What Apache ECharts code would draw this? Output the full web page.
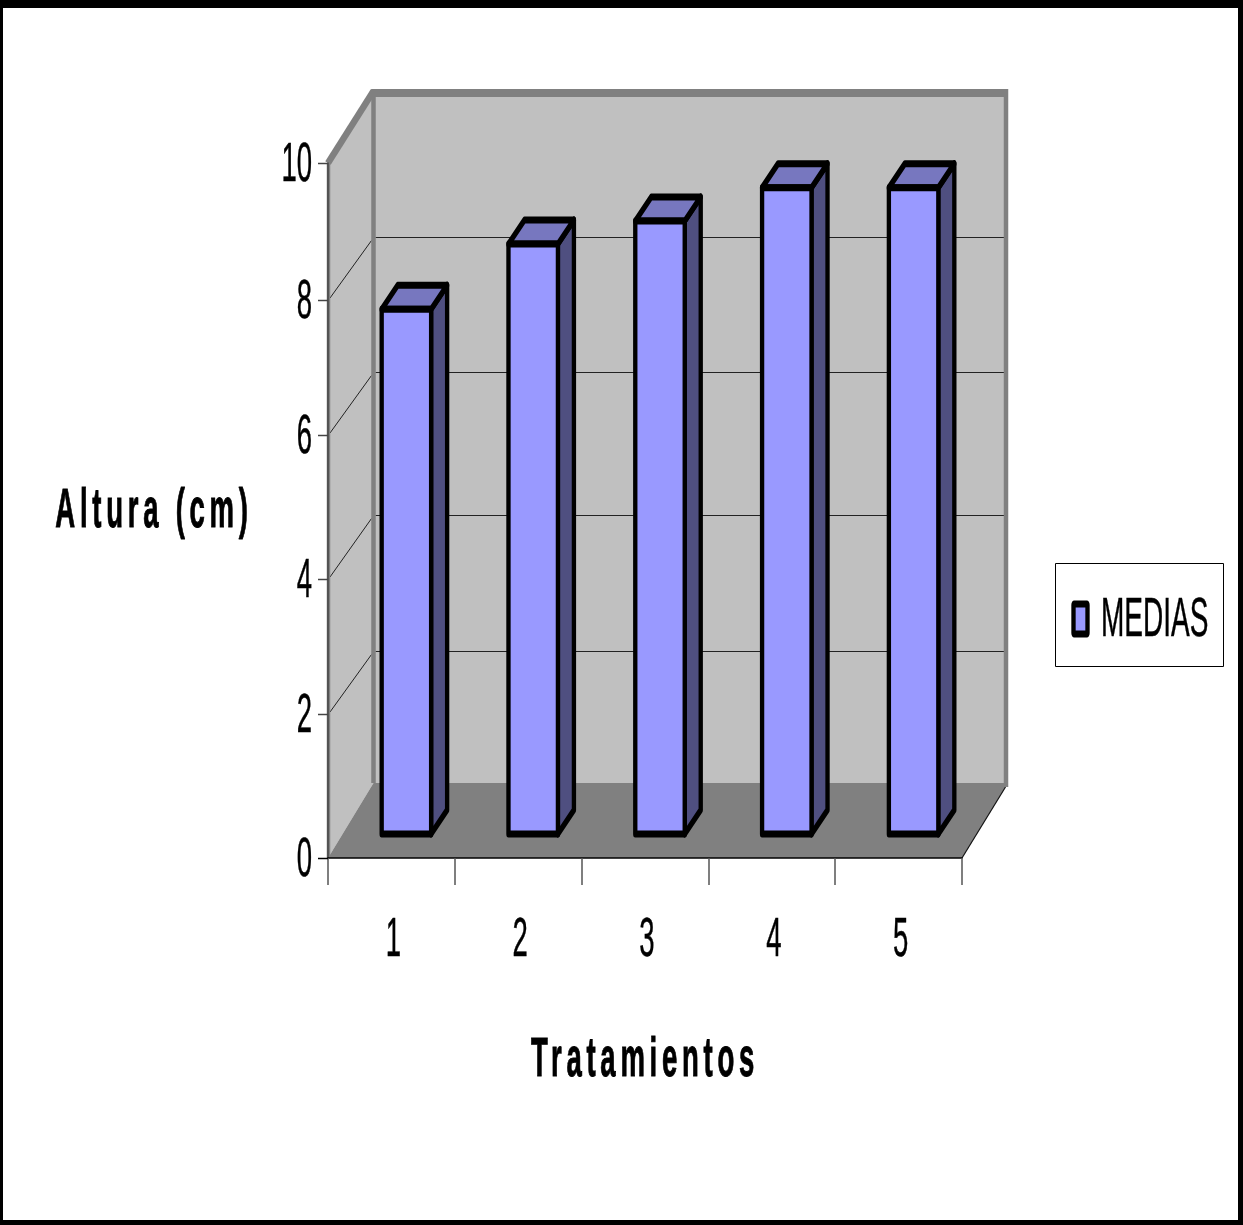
<!DOCTYPE html>
<html>
<head>
<meta charset="utf-8">
<style>html,body{margin:0;padding:0;background:#fff}#chart{width:1243px;height:1225px}</style>
<script src="https://cdn.jsdelivr.net/npm/echarts@6/dist/echarts.min.js"></script>
</head>
<body>
<div id="chart"></div>
<script>
// Plant height by treatment
const categories = ['1', '2', '3', '4', '5'];
const medias = [7.55, 8.49, 8.82, 9.3, 9.3];
const yTicks = [0, 2, 4, 6, 8, 10];
const seriesName = 'MEDIAS';
const xTitle = 'Tratamientos';
const yTitle = 'Altura (cm)';

// Oblique projection of the box
const wallDx = 45.5;
const wallLift = [75, 68, 65, 69, 65, 70];   // rise of the back wall at each y tick
const tickNudge = [0, -5, -1, -6, -2, 0];    // small shift of each y tick on the front edge
const barDx = 15;                            // bar offset from the front plane
const barLift = 24;
const barSideDx = 16;
const barSideLift = 24;
const barShare = 0.39;
const squeeze = 0.62;                        // vertical strokes are thinner than horizontal ones
const titleTracking = '9.5px';

const FONT = '"Liberation Sans", Arial, sans-serif';
const WALL = '#c0c0c0', FLOOR = '#808080', EDGE = '#808080';

// zrender's text style has no letter spacing, so the two axis titles get it at draw time
['fillText', 'strokeText'].forEach(method => {
  const plain = CanvasRenderingContext2D.prototype[method];
  CanvasRenderingContext2D.prototype[method] = function (text, x, y) {
    const tracked = text === xTitle || text === yTitle;
    this.save();
    this.letterSpacing = tracked ? titleTracking : '0px';
    plain.call(this, text, x, y);
    this.restore();
  };
});

function poly(points, style, z2) {
  return {
    type: 'polygon', scaleX: squeeze, z2: z2 || 0,
    shape: { points: points.map(p => [p[0] / squeeze, p[1]]) },
    style: Object.assign({ lineJoin: 'round' }, style)
  };
}
function seg(a, b, stroke, lineWidth) {
  return {
    type: 'line',
    shape: { x1: a[0], y1: a[1], x2: b[0], y2: b[1] },
    style: { stroke, lineWidth, fill: null, lineCap: 'butt' }
  };
}

// Back wall, side wall, floor and the grid lines that run across them
function renderBox(params, api) {
  const band = api.size([1, 0])[0];
  const left = api.coord([0, 0])[0] - band / 2;
  const right = left + band * categories.length;
  const yAt = v => api.coord([0, v])[1];
  const n = yTicks.length - 1;
  const yF0 = yAt(yTicks[0]), yF1 = yAt(yTicks[n]);
  const yB0 = yF0 - wallLift[0], yB1 = yF1 - wallLift[n];
  const bl = left + wallDx, br = right + wallDx;
  const kids = [
    poly([[bl, yB1], [br, yB1], [br, yB0], [bl, yB0]], { fill: WALL }),
    poly([[left, yF1], [bl, yB1], [bl, yB0], [left, yF0]], { fill: WALL }),
    poly([[left, yF0], [right, yF0], [br - 2, yB0 + 4], [br, yB0], [bl, yB0]], { fill: FLOOR })
  ];
  for (let i = 1; i < n; i++) {
    const raw = yAt(yTicks[i]);
    const yF = raw + tickNudge[i], yB = Math.round(raw - wallLift[i]) + 0.5;
    kids.push(seg([left + 2, yF - 2], [bl - 2, yB + 3], '#222', 1));
    kids.push(seg([bl + 2, yB], [br - 3, yB], '#222', 1));
  }
  kids.push(seg([right, yF0], [br - 2, yB0 + 4], '#111', 1.2));
  kids.push(seg([bl, yB1 - 4], [bl, yB0], EDGE, 4.5));
  kids.push(seg([br - 1.5, yB1 - 4], [br - 1.5, yB0 + 4], EDGE, 4.5));
  kids.push(seg([bl - 2, yB1], [br + 0.5, yB1], EDGE, 8));
  kids.push(seg([left, yF1], [bl, yB1 - 2], EDGE, 6.5));
  kids.push(seg([left + 0.5, yF1], [left + 0.5, yF0], EDGE, 3.5));
  return { type: 'group', children: kids };
}

// One prism per treatment
function renderBar(params, api) {
  const base = api.coord([api.value(0), 0]);
  const top = api.coord([api.value(0), api.value(1)]);
  const band = api.size([1, 0])[0];
  const w = band * barShare;
  const x0 = base[0] + barDx - w / 2, x1 = x0 + w;
  const yB = base[1] - barLift, yT = top[1] - barLift;
  const d = barSideDx, h = barSideLift;
  const line = { stroke: '#000', lineWidth: 7 };
  return {
    type: 'group',
    children: [
      poly([[x1, yT], [x1 + d, yT - h], [x1 + d, yB - h], [x1, yB]], Object.assign({ fill: '#4f4f80' }, line)),
      poly([[x0, yT], [x0 + d, yT - h], [x1 + d, yT - h], [x1, yT]], Object.assign({ fill: '#7777bf' }, line)),
      poly([[x0, yT], [x1, yT], [x1, yB], [x0, yB]], Object.assign({ fill: '#9999ff' }, line))
    ]
  };
}

function tallText(text, x, y, align, size, sx, weight, heft) {
  return {
    type: 'text', x, y, scaleX: sx,
    style: {
      text, x: 0, y: 0, align, verticalAlign: 'middle',
      fontFamily: FONT, fontSize: size, fontWeight: weight || 'normal', fill: '#000',
      stroke: '#000', lineWidth: heft || 0.5
    }
  };
}

function renderXLabel(params, api) {
  const p = api.coord([api.value(0), 0]);
  return tallText(categories[api.value(0)], p[0] + 2, p[1] + 83, 'center', 55, 0.5);
}
function renderYLabel(params, api) {
  const i = params.dataIndex;
  const p = api.coord([0, api.value(0)]);
  const band = api.size([1, 0])[0];
  const x = p[0] - band / 2;
  const y = Math.round(p[1] + tickNudge[i]) + 0.5;
  return {
    type: 'group',
    children: [
      seg([x - 10, y], [x, y], i === 0 ? '#000' : '#444', 1.5),
      tallText(String(api.value(0)), x - 16, y + 2, 'right', 55, 0.5)
    ]
  };
}

const option = {
  animation: false,
  backgroundColor: '#fff',
  grid: { left: 328, top: 163, width: 634, height: 695 },
  xAxis: {
    type: 'category', data: categories, boundaryGap: true, z: 5,
    axisLine: { show: true, lineStyle: { color: '#000', width: 1.5 } },
    axisTick: { show: true, length: 27, alignWithLabel: false, lineStyle: { color: '#555', width: 1.5 } },
    axisLabel: { show: false }
  },
  yAxis: {
    type: 'value', min: 0, max: 10, interval: 2, z: 5,
    axisLine: { show: true, lineStyle: { color: '#444', width: 1.5 } },
    axisTick: { show: false },
    axisLabel: { show: false },
    splitLine: { show: false }
  },
  series: [
    { type: 'custom', name: 'box', z: 1, silent: true, data: [[0, 0]], renderItem: renderBox, clip: false },
    {
      type: 'custom', name: seriesName, z: 6, renderItem: renderBar, clip: false,
      encode: { x: 0, y: 1 },
      data: medias.map((v, i) => [i, v])
    },
    { type: 'custom', name: 'xLabels', z: 7, silent: true, data: categories.map((c, i) => [i, 0]), renderItem: renderXLabel, clip: false },
    { type: 'custom', name: 'yLabels', z: 7, silent: true, data: yTicks.map(v => [v]), encode: { y: 0 }, renderItem: renderYLabel, clip: false }
  ],
  graphic: [
    // page frame
    { type: 'rect', z: 100, silent: true, shape: { x: 0, y: 0, width: 1243, height: 8 }, style: { fill: '#000' } },
    { type: 'rect', z: 100, silent: true, shape: { x: 0, y: 1220, width: 1243, height: 5 }, style: { fill: '#000' } },
    { type: 'rect', z: 100, silent: true, shape: { x: 0, y: 0, width: 3, height: 1225 }, style: { fill: '#000' } },
    { type: 'rect', z: 100, silent: true, shape: { x: 1238, y: 0, width: 5, height: 1225 }, style: { fill: '#000' } },
    // axis titles
    Object.assign(tallText(xTitle, 645, 1061, 'center', 55, 0.5, 'bold', 1), { z: 100 }),
    Object.assign(tallText(yTitle, 154, 512, 'center', 55, 0.5, 'bold', 1), { z: 100 }),
    // legend
    { type: 'rect', z: 100, shape: { x: 1055.5, y: 563.5, width: 168, height: 103 }, style: { fill: '#fff', stroke: '#000', lineWidth: 1 } },
    {
      type: 'rect', z: 101, scaleX: squeeze,
      shape: { x: 1073.5 / squeeze, y: 604, width: 14 / squeeze, height: 30, r: 1 },
      style: { fill: '#9999ff', stroke: '#000', lineWidth: 7, lineJoin: 'round' }
    },
    Object.assign(tallText(seriesName, 1101, 621, 'left', 56, 0.5), { z: 101 })
  ]
};

const chart = echarts.init(document.getElementById('chart'), null, { renderer: 'canvas' });
chart.setOption(option);
</script>
</body>
</html>
